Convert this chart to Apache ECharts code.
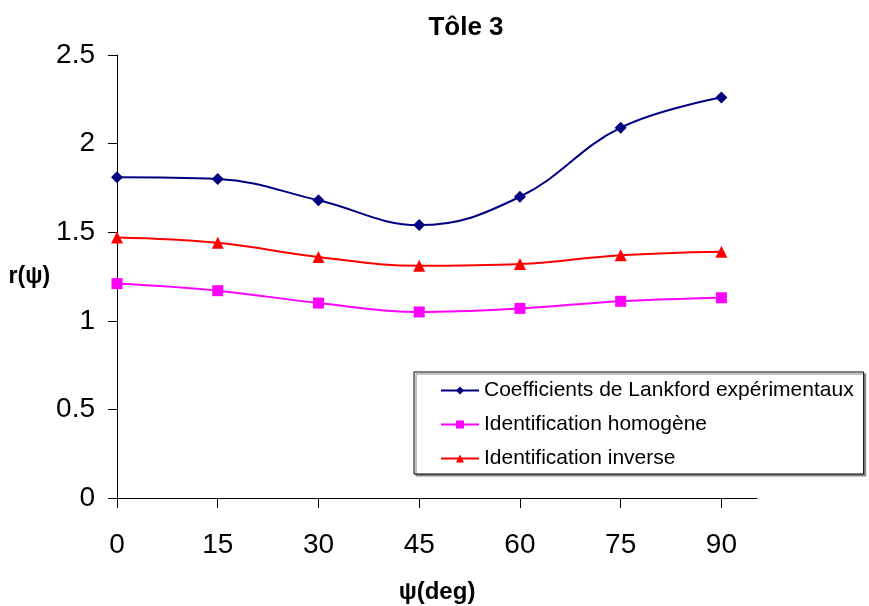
<!DOCTYPE html>
<html>
<head>
<meta charset="utf-8">
<script src="https://cdn.jsdelivr.net/npm/echarts@6/dist/echarts.min.js"></script>
<style>
  html, body { margin: 0; padding: 0; background: #fff; }
  #chart { width: 869px; height: 606px; }
</style>
</head>
<body>
<div id="chart"></div>
<script>
// angles (deg) and values
const angles = [0, 15, 30, 45, 60, 75, 90];
const lankford = [1.81, 1.80, 1.68, 1.54, 1.70, 2.09, 2.26];
const homogene = [1.21, 1.17, 1.10, 1.05, 1.07, 1.11, 1.13];
const inverse = [1.47, 1.44, 1.36, 1.31, 1.32, 1.37, 1.39];
const yTicks = [0, 0.5, 1, 1.5, 2, 2.5];

const font = '"Liberation Sans", Arial, sans-serif';
const chart = echarts.init(document.getElementById('chart'));

const pairs = vals => angles.map((a, i) => [a, vals[i]]);

const option = {
    animation: false,
    backgroundColor: '#fff',
    title: {
        text: 'Tôle 3',
        left: 461,
        top: 10,
        textAlign: 'center',
        textStyle: { fontFamily: font, fontSize: 26, fontWeight: 'bold', color: '#000' }
    },
    legend: {
        orient: 'vertical',
        left: 414,
        top: 372,
        padding: [8, 10, 5, 26],
        itemGap: 13,
        itemWidth: 38,
        itemHeight: 10,
        borderColor: '#000',
        borderWidth: 1,
        backgroundColor: '#fff',
        shadowColor: '#888',
        shadowOffsetX: 2,
        shadowOffsetY: 2,
        shadowBlur: 0,
        textStyle: { fontFamily: font, fontSize: 21, color: '#000' },
        data: ['Coefficients de Lankford expérimentaux', 'Identification homogène', 'Identification inverse']
    },
    grid: { left: 117, right: 112, top: 55, bottom: 108, outerBoundsMode: 'none' },
    xAxis: {
        type: 'value',
        min: 0,
        max: 95.3,
        interval: 15,
        name: 'ψ(deg)',
        nameLocation: 'middle',
        nameGap: 82,
        nameTextStyle: { fontFamily: font, fontSize: 24, fontWeight: 'bold', color: '#000' },
        axisLine: { lineStyle: { color: '#000', width: 1 } },
        axisTick: { show: true, inside: false, length: 10, customValues: angles, lineStyle: { color: '#000' } },
        axisLabel: { customValues: angles, fontFamily: font, fontSize: 28, color: '#000', margin: 33 },
        splitLine: { show: false }
    },
    yAxis: {
        type: 'value',
        min: 0,
        max: 2.5,
        interval: 0.5,
        name: 'r(ψ)',
        nameLocation: 'middle',
        nameRotate: 0,
        nameGap: 61,
        nameTextStyle: { fontFamily: font, fontSize: 23, fontWeight: 'bold', color: '#000' },
        axisLine: { show: true, lineStyle: { color: '#000', width: 1 } },
        axisTick: { show: true, inside: false, length: 9, lineStyle: { color: '#000' } },
        axisLabel: {
            fontFamily: font, fontSize: 28, color: '#000', margin: 22,
            formatter: v => yTicks.includes(v) ? String(v) : ''
        },
        splitLine: { show: false }
    },
    series: [
        {
            name: 'Coefficients de Lankford expérimentaux',
            type: 'line',
            smooth: 0.4,
            data: pairs(lankford),
            symbol: 'diamond',
            symbolSize: 12,
            lineStyle: { color: '#000080', width: 2 },
            itemStyle: { color: '#000080' }
        },
        {
            name: 'Identification homogène',
            type: 'line',
            smooth: 0.4,
            data: pairs(homogene),
            symbol: 'rect',
            symbolSize: 11,
            lineStyle: { color: '#FF00FF', width: 2 },
            itemStyle: { color: '#FF00FF' }
        },
        {
            name: 'Identification inverse',
            type: 'line',
            smooth: 0.4,
            data: pairs(inverse),
            symbol: 'triangle',
            symbolSize: 12,
            lineStyle: { color: '#FF0000', width: 2 },
            itemStyle: { color: '#FF0000' }
        }
    ]
};

chart.setOption(option);
</script>
</body>
</html>
